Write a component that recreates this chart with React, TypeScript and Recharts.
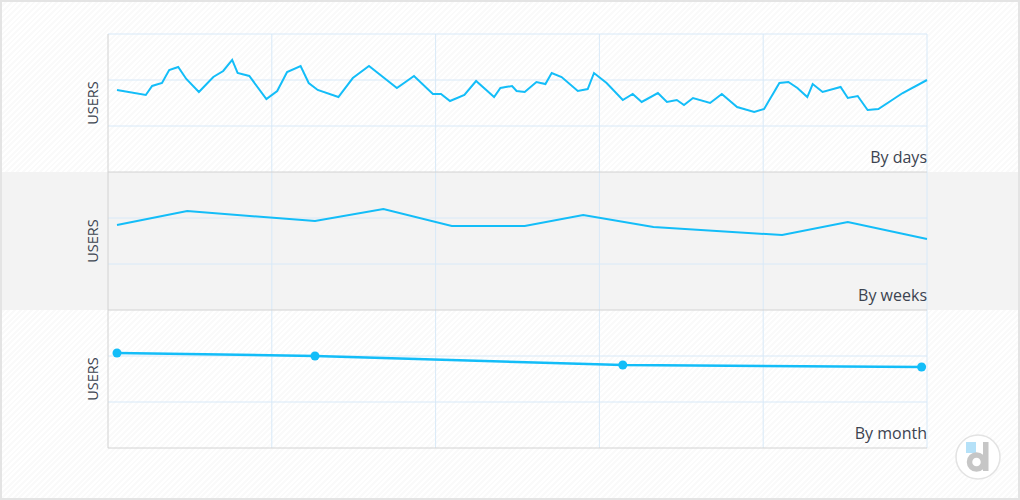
import React from 'react';
import { LineChart, Line, XAxis, YAxis, ReferenceLine } from 'recharts';

// x values are day positions on a 0..91 timeline
const dayX = [1, 4.2, 4.9, 6, 6.8, 7.8, 8.7, 10.1, 11.7, 12.8, 13.8, 14.4, 15.7, 17.6, 18.8, 19.9, 21.4, 22.3, 23.3, 25.6, 27.2, 29, 32.1, 34, 36.1, 37, 38, 39.6, 40.9, 42.9, 43.6, 44.9, 45.4, 46.3, 47.6, 48.6, 49.3, 50.4, 52.2, 53.3, 54, 55.4, 57.2, 58.3, 59.3, 61.1, 62.1, 63.2, 64, 65, 66.9, 68.2, 69.9, 71.8, 72.9, 74.6, 75.6, 76.6, 77.7, 78.3, 79.4, 81.4, 82.2, 83.3, 84.4, 85.6, 88.3, 91];
const dayUsers = [1783, 1674, 1870, 1935, 2217, 2283, 2022, 1739, 2065, 2196, 2435, 2152, 2087, 1587, 1761, 2174, 2304, 1935, 1783, 1630, 2043, 2304, 1826, 2087, 1696, 1696, 1543, 1674, 1978, 1630, 1826, 1870, 1761, 1739, 1957, 1913, 2152, 2065, 1761, 1804, 2152, 1935, 1565, 1696, 1522, 1717, 1522, 1565, 1457, 1609, 1500, 1696, 1413, 1304, 1370, 1935, 1957, 1826, 1630, 1913, 1739, 1848, 1609, 1652, 1348, 1370, 1717, 2000];

const weekX = [1, 8.8, 23, 30.6, 38.2, 46.3, 52.8, 60.6, 74.9, 82.2, 91];
const weekUsers = [1848, 2152, 1935, 2196, 1826, 1826, 2065, 1804, 1630, 1913, 1543];

const monthX = [1, 23, 57.2, 90.4];
const monthUsers = [2065, 2000, 1804, 1761];

const xTicks = [18.2, 36.4, 54.6, 72.8, 91];
const yTicks = [0, 1000, 2000, 3000];

const LINE = '#13bdf8';
const GRID = '#d8e9f8';
const AXIS = '#d2d2d2';
const TEXT = '#3c4350';
const FONT = '"Open Sans", sans-serif';

const toRows = (xs: number[], ys: number[]) => xs.map((x, i) => ({ day: x, users: ys[i] }));

type PanelProps = {
  rows: { day: number; users: number }[];
  title: string;
  top: number;
  marginTop: number;
  dots?: boolean;
  yGrid: number[];
};

const Panel = ({ rows, title, top, marginTop, dots, yGrid }: PanelProps) => (
  <div style={{ position: 'absolute', left: -2, top }}>
    <LineChart
      width={1020}
      height={marginTop + 139}
      data={rows}
      margin={{ top: marginTop, right: 93, bottom: 0, left: 78 }}
    >
      {yGrid.map((v) => (
        <ReferenceLine key={'h' + v} y={v} stroke={GRID} strokeWidth={1} ifOverflow="visible" />
      ))}
      {xTicks.map((v) => (
        <ReferenceLine key={'v' + v} x={v} stroke={GRID} strokeWidth={1} ifOverflow="visible" />
      ))}
      <XAxis
        dataKey="day"
        type="number"
        domain={[0, 91]}
        ticks={xTicks}
        tick={false}
        tickLine={false}
        axisLine={{ stroke: AXIS }}
        height={1}
      />
      <YAxis
        domain={[0, 3000]}
        ticks={yTicks}
        tick={false}
        tickLine={false}
        axisLine={{ stroke: AXIS }}
        width={30}
        label={(p: any) => {
          const cx = p.viewBox.x + p.viewBox.width / 2;
          const cy = p.viewBox.y + p.viewBox.height / 2;
          return (
            <text
              x={cx}
              y={cy}
              dy={5}
              transform={`rotate(-90 ${cx} ${cy})`}
              textAnchor="middle"
              fill={TEXT}
              fontSize={14.5}
              fontFamily={FONT}
            >
              USERS
            </text>
          );
        }}
      />
      <ReferenceLine
        y={0}
        stroke="none"
        label={(p: any) => (
          <text
            x={p.viewBox.x + p.viewBox.width}
            y={p.viewBox.y - 9}
            textAnchor="end"
            fill={TEXT}
            fontSize={16}
            fontFamily={FONT}
          >
            {title}
          </text>
        )}
      />
      <Line
        type="linear"
        dataKey="users"
        stroke={LINE}
        strokeWidth={dots ? 2.5 : 2}
        dot={dots ? { r: 4.5, fill: LINE, stroke: LINE, strokeWidth: 0 } : false}
        activeDot={false}
        isAnimationActive={false}
      />
    </LineChart>
  </div>
);

const Logo = () => (
  <svg width={48} height={48} style={{ position: 'absolute', left: 952, top: 431 }}>
    <circle cx={24} cy={24} r={22} fill="#fff" stroke="#e3e3e3" strokeWidth={1.5} />
    <rect x={12} y={9} width={10} height={11} fill="#b5e1f8" />
    <circle cx={22.5} cy={29} r={7} fill="none" stroke="#c6c6c6" strokeWidth={5.5} />
    <rect x={29} y={9} width={5.5} height={29} fill="#c6c6c6" />
  </svg>
);

export default function App() {
  return (
    <div
      style={{
        position: 'absolute',
        left: 0,
        top: 0,
        width: 1020,
        height: 500,
        boxSizing: 'border-box',
        border: '2px solid #e4e4e4',
        background: 'repeating-linear-gradient(135deg, #ffffff 0px, #ffffff 2px, #fafafa 2px, #fafafa 4px)',
        overflow: 'hidden',
      }}
    >
      <div style={{ position: 'absolute', left: -2, top: 170, width: 1020, height: 138, background: '#f3f3f3' }} />
      <Panel rows={toRows(monthX, monthUsers)} title="By month" top={308} marginTop={0} dots yGrid={[1000, 2000]} />
      <Panel rows={toRows(weekX, weekUsers)} title="By weeks" top={170} marginTop={0} yGrid={[1000, 2000]} />
      <Panel rows={toRows(dayX, dayUsers)} title="By days" top={-2} marginTop={34} yGrid={[1000, 2000, 3000]} />
      <Logo />
    </div>
  );
}
